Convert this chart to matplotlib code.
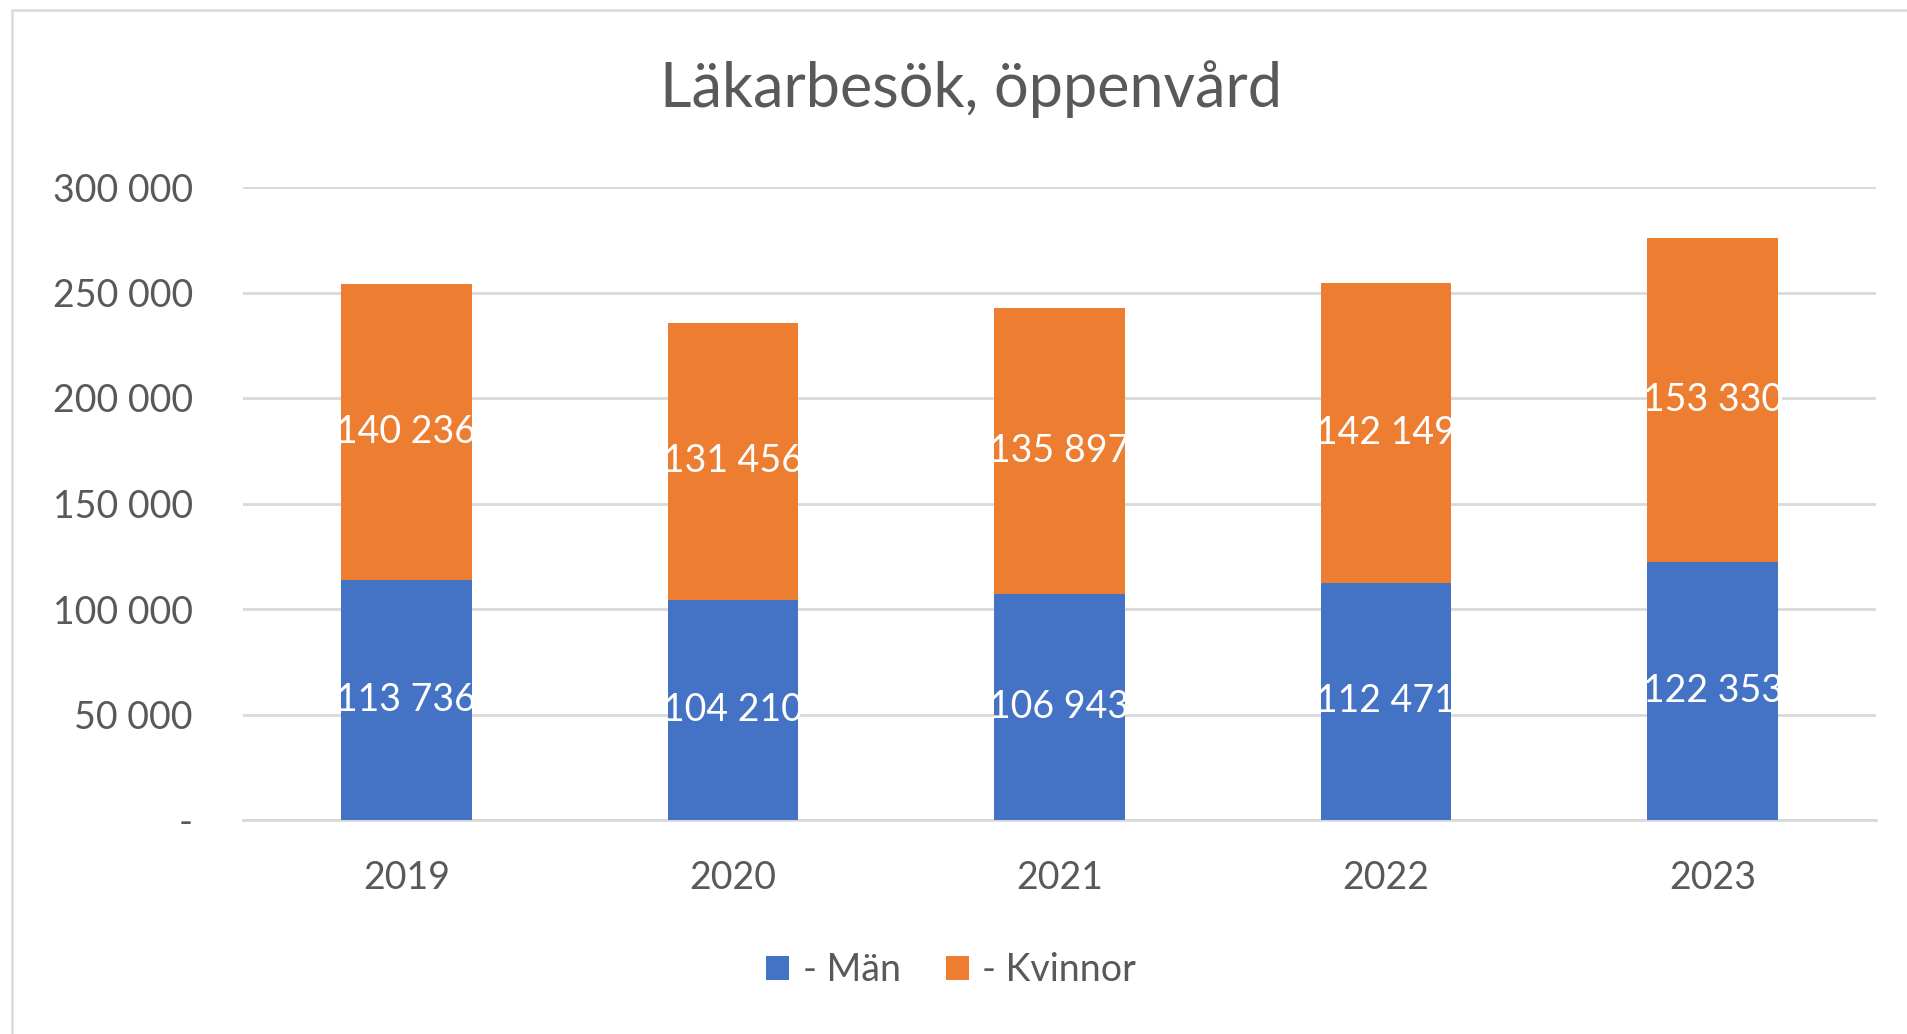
import matplotlib
matplotlib.use("Agg")
import matplotlib.pyplot as plt
from matplotlib.patches import Rectangle

# data
years = ["2019", "2020", "2021", "2022", "2023"]
man = [113736, 104210, 106943, 112471, 122353]
kvinnor = [140236, 131456, 135897, 142149, 153330]
yticks = [0, 50000, 100000, 150000, 200000, 250000, 300000]


def fmt(v):
    if v == 0:
        return "-"
    return "{:,}".format(v).replace(",", " ")


plt.rcParams['font.family'] = ['Lato', 'DejaVu Sans']

W, H = 1908, 1034
my_dpi = 100
fig = plt.figure(figsize=(W / my_dpi, H / my_dpi), dpi=my_dpi)
ax = fig.add_axes([243 / W, 1 - 820 / H, (1876 - 243) / W, (820 - 187) / H])

# outer chart border
fig.patches.append(Rectangle((12 / W, -0.1), 1.2, 1 - 10 / H + 0.1, transform=fig.transFigure,
                             fill=False, edgecolor="#D9D9D9", linewidth=1.8))

x = range(len(years))
blue = "#4472C4"
orange = "#ED7D31"
b1 = ax.bar(x, man, width=0.4, color=blue, label="- Män", zorder=3)
b2 = ax.bar(x, kvinnor, width=0.4, bottom=man, color=orange, label="- Kvinnor", zorder=3)

# data labels in middle of each segment
for i in x:
    ax.text(i, man[i] / 2, fmt(man[i]), ha="center", va="center", color="white", fontsize=27, zorder=4)
    ax.text(i, man[i] + kvinnor[i] / 2, fmt(kvinnor[i]), ha="center", va="center", color="white",
            fontsize=27, zorder=4)

ax.set_xlim(-0.5, len(years) - 0.5)
ax.set_ylim(0, 300000)
ax.set_yticks(yticks)
ax.set_yticklabels([fmt(v) for v in yticks])
ax.set_xticks(list(x))
ax.set_xticklabels(years)
ax.tick_params(axis="both", length=0, labelsize=27, colors="#595959")
ax.tick_params(axis="y", pad=36)
ax.tick_params(axis="x", pad=29)
ax.grid(axis="y", color="#D9D9D9", linewidth=2, zorder=0)
for s in ["top", "right", "left"]:
    ax.spines[s].set_visible(False)
ax.spines["bottom"].set_color("#D9D9D9")
ax.spines["bottom"].set_linewidth(2)

fig.text(971 / W, 1 - 89 / H, "Läkarbesök, öppenvård", ha="center", va="center", fontsize=44,
         color="#595959")

fig.legend(handles=[b1, b2], loc="center", bbox_to_anchor=(951 / W, 1 - 970 / H), ncol=2, frameon=False,
           fontsize=27, labelcolor="#595959", handlelength=0.62, handleheight=0.62, handletextpad=0.35,
           columnspacing=1.2)

fig.savefig("out.png", dpi=my_dpi)
